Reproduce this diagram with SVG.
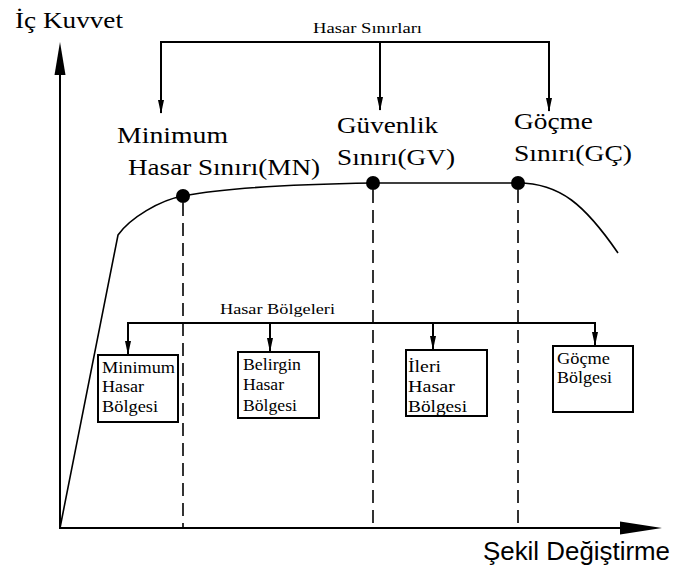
<svg xmlns="http://www.w3.org/2000/svg" width="674" height="571" viewBox="0 0 674 571">
<style>
.lbl{font-family:'Liberation Serif','Times New Roman',serif;font-size:23px;fill:#000}
.sm{font-family:'Liberation Serif','Times New Roman',serif;font-size:14px;fill:#000}
.bx{font-family:'Liberation Serif','Times New Roman',serif;font-size:17px;fill:#000}
.ax{stroke:#000;stroke-width:2;fill:none}
.con{stroke:#000;stroke-width:2;fill:none}
.dash{stroke:#000;stroke-width:1.6;stroke-dasharray:13 7;fill:none}
.curve{stroke:#000;stroke-width:1.6;fill:none}
.box{fill:#fff;stroke:#000;stroke-width:2}
</style>
<defs>
<marker id="arr" markerUnits="userSpaceOnUse" markerWidth="14" markerHeight="7" viewBox="0 0 14 7" refX="13" refY="3.5" orient="auto">
<path d="M0,0.5 L14,3.5 L0,6.5 z" fill="#000"/>
</marker>
</defs>
<rect width="674" height="571" fill="#fff"/>
<g id="axes">
<line class="ax" x1="60" y1="528" x2="60" y2="70"/>
<polygon points="60,42 54.5,75 65.5,75" fill="#000"/>
<line class="ax" x1="59" y1="528" x2="625" y2="528"/>
<polygon points="662,528 620,521.5 620,534.5" fill="#000"/>
<text class="lbl" x="15" y="28" textLength="108" lengthAdjust="spacingAndGlyphs">İç Kuvvet</text>
<text x="483" y="560" font-family="'Liberation Sans',Arial,sans-serif" font-size="25" textLength="187" lengthAdjust="spacingAndGlyphs">Şekil Değiştirme</text>
</g>
<g id="curve">
<path class="curve" d="M60 528 L118 235 C130 218 160 200 183 196 Q240 185 373 183 L518 183 C560 183 585 205 618 253"/>
</g>
<g id="dashes">
<line class="dash" x1="183" y1="203" x2="183" y2="528"/>
<line class="dash" x1="373" y1="190" x2="373" y2="528"/>
<line class="dash" x1="518" y1="190" x2="518" y2="528"/>
</g>
<g id="connectors">
<polyline class="con" points="161,42 549,42 549,111" marker-end="url(#arr)"/>
<line class="con" x1="161" y1="41" x2="161" y2="113" marker-end="url(#arr)"/>
<line class="con" x1="380" y1="42" x2="380" y2="110" marker-end="url(#arr)"/>
<line class="con" x1="127" y1="323" x2="596" y2="323"/>
<line class="con" x1="128" y1="323" x2="128" y2="354" marker-end="url(#arr)"/>
<line class="con" x1="270" y1="323" x2="270" y2="351" marker-end="url(#arr)"/>
<line class="con" x1="433" y1="323" x2="433" y2="349" marker-end="url(#arr)"/>
<line class="con" x1="595" y1="323" x2="595" y2="345" marker-end="url(#arr)"/>
<text class="sm" x="313" y="33" textLength="109" lengthAdjust="spacingAndGlyphs">Hasar Sınırları</text>
<text class="sm" x="220" y="314" font-size="15" textLength="115" lengthAdjust="spacingAndGlyphs">Hasar Bölgeleri</text>
</g>
<g id="point-MN">
<circle cx="183" cy="196" r="7" fill="#000"/>
<text class="lbl" x="117" y="143" textLength="111" lengthAdjust="spacingAndGlyphs">Minimum</text>
<text class="lbl" x="128" y="175" textLength="192" lengthAdjust="spacingAndGlyphs">Hasar Sınırı(MN)</text>
</g>
<g id="point-GV">
<circle cx="373" cy="183" r="7" fill="#000"/>
<text class="lbl" x="337" y="133" textLength="101" lengthAdjust="spacingAndGlyphs">Güvenlik</text>
<text class="lbl" x="337" y="165" textLength="118" lengthAdjust="spacingAndGlyphs">Sınırı(GV)</text>
</g>
<g id="point-GC">
<circle cx="518" cy="183" r="7" fill="#000"/>
<text class="lbl" x="514" y="129" textLength="79" lengthAdjust="spacingAndGlyphs">Göçme</text>
<text class="lbl" x="514" y="161" textLength="118" lengthAdjust="spacingAndGlyphs">Sınırı(GÇ)</text>
</g>
<g id="box-minimum">
<rect class="box" x="98" y="355" width="80" height="67"/>
<text class="bx" x="102" y="373" textLength="73" lengthAdjust="spacingAndGlyphs">Minimum</text>
<text class="bx" x="102" y="392" textLength="42" lengthAdjust="spacingAndGlyphs">Hasar</text>
<text class="bx" x="102" y="412" textLength="56" lengthAdjust="spacingAndGlyphs">Bölgesi</text>
</g>
<g id="box-belirgin">
<rect class="box" x="238" y="352" width="81" height="66"/>
<text class="bx" x="243" y="370" textLength="58" lengthAdjust="spacingAndGlyphs">Belirgin</text>
<text class="bx" x="243" y="390" textLength="41" lengthAdjust="spacingAndGlyphs">Hasar</text>
<text class="bx" x="243" y="411" textLength="54" lengthAdjust="spacingAndGlyphs">Bölgesi</text>
</g>
<g id="box-ileri">
<rect class="box" x="406" y="350" width="81" height="66"/>
<text class="bx" x="408" y="372" textLength="33" lengthAdjust="spacingAndGlyphs">İleri</text>
<text class="bx" x="408" y="392" textLength="47" lengthAdjust="spacingAndGlyphs">Hasar</text>
<text class="bx" x="408" y="412" textLength="59" lengthAdjust="spacingAndGlyphs">Bölgesi</text>
</g>
<g id="box-gocme">
<rect class="box" x="553" y="346" width="80" height="66"/>
<text class="bx" x="557" y="364" textLength="53" lengthAdjust="spacingAndGlyphs">Göçme</text>
<text class="bx" x="557" y="383" textLength="55" lengthAdjust="spacingAndGlyphs">Bölgesi</text>
</g>
</svg>
